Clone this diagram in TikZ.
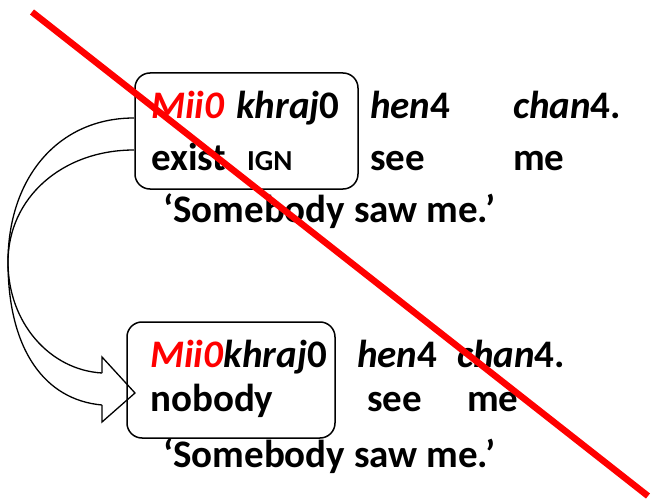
\documentclass[tikz,border=0pt]{standalone}
\usepackage{fontspec}
\setmainfont{Carlito}
\begin{document}
\begin{tikzpicture}[x=1pt,y=-1pt,
  word/.style={anchor=base west,inner sep=0pt,font=\fontsize{39}{44}\selectfont\bfseries},
  small/.style={anchor=base west,inner sep=0pt,font=\fontsize{29}{33}\selectfont\bfseries},
  glossbox/.style={draw,line width=1.5pt,rounded corners=15pt},
  arrline/.style={line width=1.3pt}]
\useasboundingbox (0,0) rectangle (654,503);
\definecolor{glred}{RGB}{255,0,0}
% curved block arrow
\coordinate (s1) at (134,118);
\coordinate (s2) at (134,150);
\coordinate (m) at (8,262);
\coordinate (e1) at (102,405);
\coordinate (e2) at (102,373);
\coordinate (h1) at (102,357);
\coordinate (h2) at (102,422);
\coordinate (tip) at (135,393);
\draw[arrline] (s1) .. controls (58,118) and (8,178) .. (m)
  .. controls (8,350) and (45,400) .. (e1);
\draw[arrline] (s2) .. controls (62,150) and (8,198) .. (m)
  .. controls (8,323) and (50,370) .. (e2);
\draw[arrline,line join=miter] (e2) -- (h1) -- (tip) -- (h2) -- (e1);
% top box
\node[glossbox,minimum width=223pt,minimum height=116pt] (box1) at (246.5,131) {};
\node[word] (w11) at (151,119) {\textcolor{glred}{\textit{Mii0}}};
\node[word] (w12) at (236,119) {\textit{khraj}0};
\node[word] (w13) at (370,119) {\textit{hen}4};
\node[word] (w14) at (513,119) {\textit{chan}4.};
\node[word] (g11) at (151,170) {exist};
\node[small] (g12) at (247,170) {IGN};
\node[word] (g13) at (370,170) {see};
\node[word] (g14) at (513,170) {me};
\node[word] (t1) at (163,222) {‘Somebody saw me.’};
% bottom box
\node[glossbox,minimum width=208pt,minimum height=116pt] (box2) at (231,380) {};
\node[word] (w21) at (150,367) {\textcolor{glred}{\textit{Mii0}}\textit{khraj}0};
\node[word] (w23) at (357,367) {\textit{hen}4};
\node[word] (w24) at (457,367) {\textit{chan}4.};
\node[word] (g21) at (150,411) {nobody};
\node[word] (g23) at (367,411) {see};
\node[word] (g24) at (467,411) {me};
\node[word] (t2) at (163,467) {‘Somebody saw me.’};
% red strike line
\coordinate (r1) at (32,12);
\coordinate (r2) at (648,496);
\draw[glred,line width=6.5pt] (r1) -- (r2);
\end{tikzpicture}
\end{document}
